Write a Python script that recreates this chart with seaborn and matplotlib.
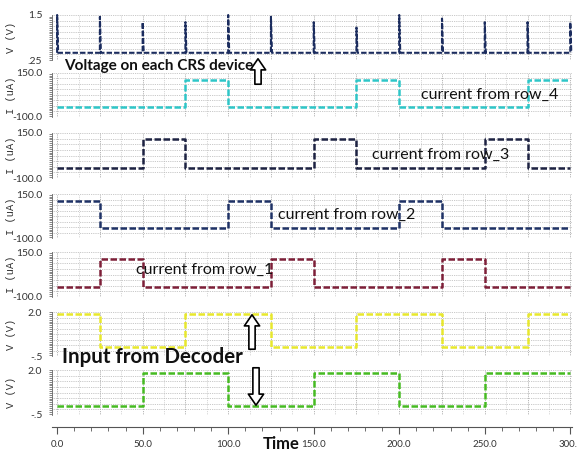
import matplotlib
matplotlib.use("Agg")
import numpy as np
import pandas as pd
import matplotlib.pyplot as plt
import seaborn as sns
from matplotlib.ticker import MultipleLocator

sns.set_style("white")
plt.rcParams['font.family'] = ['Lato', 'DejaVu Sans']

# step edges in time (ns); level lists hold one value per edge (last repeats)
edges = [0, 25, 50, 75, 100, 125, 150, 175, 200, 225, 250, 275, 300]

# CRS device voltage: short spikes at each edge on a flat base
spike_t = [0, 25, 50, 75, 100, 125, 150, 175, 200, 225, 250, 275, 300]
spike_v = [1.5, 1.45, 1.3, 1.3, 1.5, 1.45, 1.3, 1.15, 1.5, 1.4, 1.3, 1.3, 1.3]
crs_base = 0.45

# row currents (uA)
row4_i = [-45, -45, -45, 112, -45, -45, -45, 112, -45, -45, -45, 112, 112]
row3_i = [-45, -45, 115, -45, -45, -45, 115, -45, -45, -45, 115, -45, -45]
row2_i = [112, -45, -45, -45, 112, -45, -45, -45, 112, -45, -45, -45, -45]
row1_i = [-45, 112, -45, -45, -45, 112, -45, -45, -45, 112, -45, -45, -45]

# decoder inputs (V)
dec_a = [1.9, 0.0, 0.0, 1.9, 1.9, 0.0, 0.0, 1.9, 1.9, 0.0, 0.0, 1.9, 1.9]
dec_b = [0.0, 0.0, 1.85, 1.85, 0.0, 0.0, 1.85, 1.85, 0.0, 0.0, 1.85, 1.85, 1.85]

v_ticks = ['.25', '1.5']
i_ticks = ['-100.0', '150.0']
d_ticks = ['-.5', '2.0']
x_ticks = ['0.0', '50.0', '100.0', '150.0', '200.0', '250.0', '300.0']

W, H = 577, 455
fig = plt.figure(figsize=(W / 100, H / 100), dpi=100)

# panel top/bottom in pixels
rows_px = [(15, 60), (73, 117), (133, 178), (194, 238), (252, 297), (312, 356), (370, 415)]
left_px, right_px = 52, 572

# build the CRS spike trace
crs_t, crs_v = [], []
for t, v in zip(spike_t, spike_v):
    crs_t += [t - 0.01, t, t + 0.6]
    crs_v += [crs_base, v, crs_base]
crs_df = pd.DataFrame({'t': crs_t, 'v': crs_v})

traces = [
    (crs_df, '#1b2c5e', (0.25, 1.5), v_ticks, 'V (V)', False),
    (pd.DataFrame({'t': edges, 'v': row4_i}), '#2ec6c8', (-100, 150), i_ticks, 'I (uA)', True),
    (pd.DataFrame({'t': edges, 'v': row3_i}), '#1d2242', (-100, 150), i_ticks, 'I (uA)', True),
    (pd.DataFrame({'t': edges, 'v': row2_i}), '#1f3266', (-100, 150), i_ticks, 'I (uA)', True),
    (pd.DataFrame({'t': edges, 'v': row1_i}), '#7d1f38', (-100, 150), i_ticks, 'I (uA)', True),
    (pd.DataFrame({'t': edges, 'v': dec_a}), '#e8e82c', (-0.5, 2.0), d_ticks, 'V (V)', True),
    (pd.DataFrame({'t': edges, 'v': dec_b}), '#46bb22', (-0.5, 2.0), d_ticks, 'V (V)', True),
]

axes = []
for (top, bot), (df, col, ylim, tl, ylab, steps) in zip(rows_px, traces):
    ax = fig.add_axes([left_px / W, 1 - bot / H, (right_px - left_px) / W, (bot - top) / H])
    axes.append(ax)
    for t in np.arange(0, 301, 12.5):
        ax.axvline(t, color='#9a9a9a' if t % 25 == 0 else '#c8c8c8', lw=0.6, ls=(0, (1, 1.2)), zorder=0)
    for y in np.linspace(ylim[0], ylim[1], 9):
        ax.axhline(y, color='#b5b5b5', lw=0.6, ls=(0, (1, 1.2)), zorder=0)
    sns.lineplot(data=df, x='t', y='v', ax=ax, color=col, lw=1.8 if steps else 1.5, estimator=None,
                 drawstyle='steps-post' if steps else 'default',
                 linestyle=(0, (2.6, 1.0)), clip_on=False)
    ax.set_xlim(-3, 301)
    ax.set_ylim(*ylim)
    ax.set_yticks(ylim)
    ax.set_yticklabels(tl, fontsize=7.5, color='#333333')
    ax.yaxis.set_minor_locator(MultipleLocator((ylim[1] - ylim[0]) / 24))
    ax.tick_params(axis='y', which='major', length=4, width=0.6, color='#555555', pad=3)
    ax.tick_params(axis='y', which='minor', length=2.5, width=0.5, color='#555555', left=True)
    ax.set_ylabel(ylab, family=['Liberation Mono', 'DejaVu Sans Mono'], fontsize=7.5, color='#333333')
    ax.yaxis.set_label_coords(-0.07, 0.5)
    for s in ['top', 'right', 'bottom']:
        ax.spines[s].set_visible(False)
    ax.spines['left'].set_color('#666666')
    ax.spines['left'].set_linewidth(0.6)
    ax.set_xlabel('')
    ax.set_xticks([])

# time axis under the last panel
ax = axes[-1]
ax.spines['bottom'].set_visible(True)
ax.spines['bottom'].set_position(('outward', 8.5))
ax.spines['bottom'].set_color('#555555')
ax.spines['bottom'].set_linewidth(0.8)
ax.set_xticks(edges[::2])
ax.set_xticklabels(x_ticks, fontsize=7, color='#333333')
ax.xaxis.set_minor_locator(MultipleLocator(10))
ax.tick_params(axis='x', which='major', length=5, width=0.8, color='#555555', pad=4.5, bottom=True)
ax.tick_params(axis='x', which='minor', length=3, width=0.6, color='#555555', bottom=True)
ax.set_xlabel('')

bold = dict(fontweight='bold', family=['Lato', 'DejaVu Sans'], color='#111111')
fig.text(64 / W, 1 - 66 / H, 'Voltage on each CRS device', fontsize=11, va='center', ha='left', **bold)
fig.text(62 / W, 1 - 357 / H, 'Input from Decoder', fontsize=14.8, va='center', ha='left', **bold)
fig.text(281 / W, 1 - 444 / H, 'Time', fontsize=12, va='center', ha='center', **bold)

reg = dict(family=['Lato', 'DejaVu Sans'], color='#111111', fontsize=11.5, va='center', ha='left')
axes[1].text(213, 25, 'current from row_4', **reg)
axes[2].text(184, 28, 'current from row_3', **reg)
axes[3].text(129, 31, 'current from row_2', **reg)
axes[4].text(46, 50, 'current from row_1', **reg)

# hollow block arrows
arrow = dict(arrowstyle='simple,head_width=1.1,head_length=0.8,tail_width=0.45', fc='white', ec='black', lw=1.2)
fig.add_artist(plt.Annotation('', xy=(258, H - 56), xytext=(258, H - 87), xycoords='figure pixels', arrowprops=arrow))
fig.add_artist(plt.Annotation('', xy=(252, H - 312), xytext=(252, H - 352), xycoords='figure pixels', arrowprops=arrow))
fig.add_artist(plt.Annotation('', xy=(256, H - 408), xytext=(256, H - 365), xycoords='figure pixels', arrowprops=arrow))

fig.savefig('out.png', dpi=100)
